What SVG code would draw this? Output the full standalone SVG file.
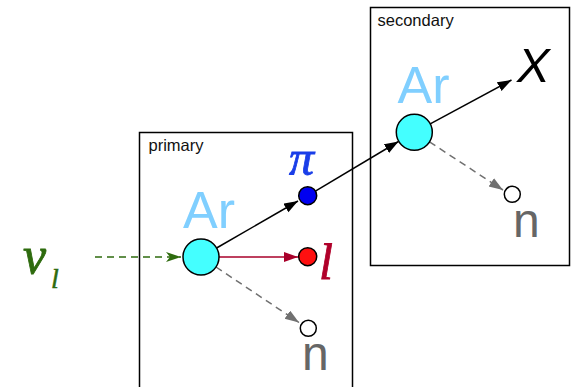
<svg xmlns="http://www.w3.org/2000/svg" width="571" height="387" viewBox="0 0 571 387">
<style>
.box{fill:none;stroke:#000;stroke-width:1.5}
.boxlbl{font-family:"Liberation Sans",Arial,sans-serif;font-size:16.5px;fill:#111}
.ar{font-family:"Liberation Sans",Arial,sans-serif;font-size:52px;fill:#80cfff}
.n{font-family:"Liberation Sans",Arial,sans-serif;font-size:48px;fill:#666}
.nuc{fill:#44ffff;stroke:#000;stroke-width:1.5}
.neu{fill:#fff;stroke:#000;stroke-width:1.5}
.sym{font-family:"Liberation Serif","Times New Roman",serif;font-style:italic}
.blk{stroke:#000;stroke-width:1.5;fill:none}
.red{stroke:#a8002a;stroke-width:1.5;fill:none}
.gry{stroke:#707070;stroke-width:1.5;fill:none;stroke-dasharray:7,5}
.grn{stroke:#2e6b0e;stroke-width:1.6;fill:none;stroke-dasharray:7,5}
</style>
<defs>
<marker id="mb" markerUnits="userSpaceOnUse" markerWidth="16" markerHeight="12" refX="14" refY="5" orient="auto"><path d="M0,0 L14,5 L0,10 Z" fill="#000"/></marker>
<marker id="mr" markerUnits="userSpaceOnUse" markerWidth="16" markerHeight="12" refX="14" refY="5" orient="auto"><path d="M0,0 L14,5 L0,10 Z" fill="#a8002a"/></marker>
<marker id="mg" markerUnits="userSpaceOnUse" markerWidth="16" markerHeight="12" refX="14" refY="5" orient="auto"><path d="M0,0 L14,5 L0,10 Z" fill="#707070"/></marker>
<marker id="mgr" markerUnits="userSpaceOnUse" markerWidth="17" markerHeight="12" refX="15" refY="5" orient="auto"><path d="M0,0 L15,5 L0,10 L4,5 Z" fill="#2e6b0e"/></marker>
</defs>

<g id="primary-box">
<rect class="box" x="139.5" y="132.5" width="213" height="262"/>
<text class="boxlbl" x="148.5" y="150.5">primary</text>
</g>
<g id="secondary-box">
<rect class="box" x="370.5" y="7.5" width="199" height="258"/>
<text class="boxlbl" x="377.5" y="25.5">secondary</text>
</g>

<g id="connectors">
<line class="grn" x1="95" y1="257" x2="181" y2="257" marker-end="url(#mgr)"/>
<line class="red" x1="219" y1="257" x2="298" y2="257" marker-end="url(#mr)"/>
<line class="blk" x1="216.6" y1="248" x2="298" y2="201" marker-end="url(#mb)"/>
<line class="blk" x1="315.4" y1="191.1" x2="398.5" y2="141.5" marker-end="url(#mb)"/>
<line class="blk" x1="430.2" y1="123.8" x2="511.5" y2="80" marker-end="url(#mb)"/>
<line class="gry" x1="216" y1="267" x2="299" y2="322.5" marker-end="url(#mg)"/>
<line class="gry" x1="429.5" y1="141.9" x2="503" y2="190" marker-end="url(#mg)"/>
</g>

<g id="neutrino">
<text class="sym" x="23" y="273" font-size="52" fill="#2e6b0e" stroke="#2e6b0e" stroke-width="0.8">ν</text>
<text class="sym" x="51" y="288" font-size="28" fill="#2e6b0e" stroke="#2e6b0e" stroke-width="0.5">l</text>
</g>
<g id="ar-primary">
<text class="ar" x="183" y="228">Ar</text>
<circle class="nuc" cx="201" cy="257" r="18"/>
</g>
<g id="pion">
<circle cx="307.7" cy="195.7" r="9" fill="#0000f0" stroke="#000" stroke-width="1.5"/>
<text class="sym" x="289" y="175" font-size="50" fill="#1a3ee8" stroke="#1a3ee8" stroke-width="0.8">π</text>
</g>
<g id="lepton">
<circle cx="307.7" cy="256.7" r="9" fill="#ff1010" stroke="#000" stroke-width="1.5"/>
<text class="sym" x="319" y="279" font-size="50" fill="#b0002a" stroke="#b0002a" stroke-width="0.8">l</text>
</g>
<g id="n-primary">
<circle class="neu" cx="308.3" cy="328.3" r="8"/>
<text class="n" x="302" y="370">n</text>
</g>
<g id="ar-secondary">
<text class="ar" x="397.5" y="103">Ar</text>
<circle class="nuc" cx="414.3" cy="132.3" r="18"/>
</g>
<g id="x-out">
<text x="517" y="82" font-family="Liberation Sans, Arial, sans-serif" font-style="italic" font-size="49" fill="#000">X</text>
</g>
<g id="n-secondary">
<circle class="neu" cx="512.3" cy="194.3" r="8"/>
<text class="n" x="513" y="237">n</text>
</g>
</svg>
